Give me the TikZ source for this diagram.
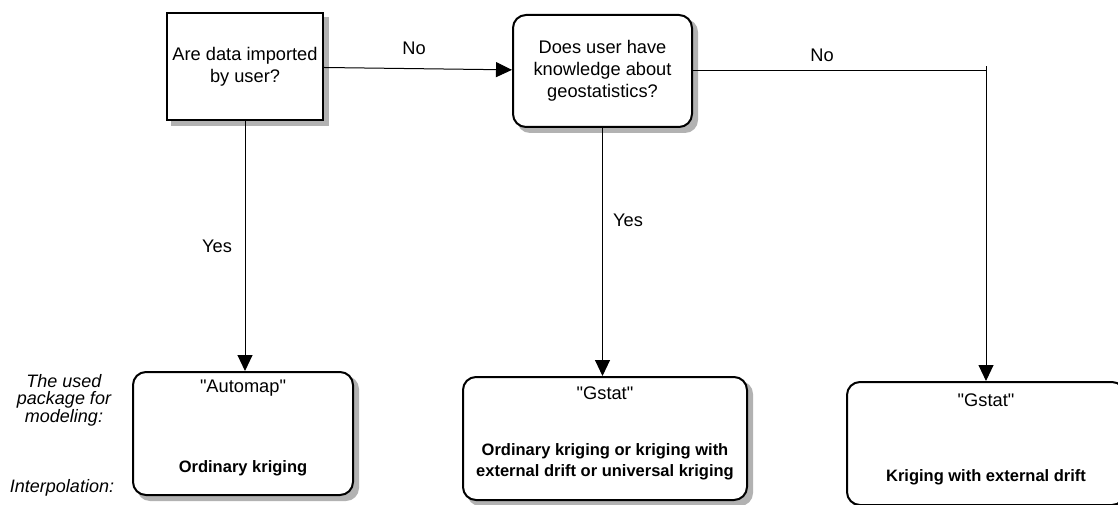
\documentclass[tikz,border=0pt]{standalone}
\usepackage{fontspec}
\setmainfont{Liberation Sans}
\usetikzlibrary{arrows.meta,backgrounds}

\tikzset{
  question/.style={draw, line width=2pt, fill=white, align=center,
    font=\fontsize{18.25}{22}\selectfont},
  result/.style={draw, line width=2pt, fill=white, rounded corners=13pt},
  shadowbox/.style={fill=black!30},
  pkg/.style={font=\fontsize{18.25}{22}\selectfont},
  method/.style={align=center, font=\bfseries\fontsize{16.5}{21}\selectfont},
  note/.style={align=center, font=\itshape\fontsize{18}{17.5}\selectfont},
  answer/.style={font=\fontsize{18.25}{22}\selectfont},
  flow/.style={line width=1pt, -{Triangle[length=16pt,width=15pt]}}
}

\begin{document}
\begin{tikzpicture}[x=1pt,y=-1pt]
\useasboundingbox (0,0) rectangle (1118,505);

% First question
\node[question,
    minimum width=156pt,
    minimum height=107pt] (q1) at (245,66.5) {Are data imported\\by user?};

% Second question
\node[question,
    rounded corners=13pt,
    minimum width=179pt,
    minimum height=112pt] (q2) at (602.5,71) {Does user have\\knowledge about\\geostatistics?};

% Result boxes
\node[result, minimum width=220pt, minimum height=123pt] (automap) at (243,433.5) {};
\node[result, minimum width=284pt, minimum height=123pt] (gstat1) at (605,438.5) {};
\node[result, minimum width=278pt, minimum height=123pt] (gstat2) at (986,443.5) {};

% Shadows behind the boxes
\begin{scope}[on background layer]
  \fill[shadowbox] ([shift={(5pt,-5pt)}]q1.south west) rectangle ([shift={(5pt,-5pt)}]q1.north east);
  \foreach \b in {q2,automap,gstat1,gstat2}
    \fill[shadowbox, rounded corners=13pt] ([shift={(5pt,-5pt)}]\b.south west) rectangle ([shift={(5pt,-5pt)}]\b.north east);
\end{scope}

% Texts in the result boxes
\node[pkg] (automap-pkg) at (243,388) {\textquotedbl Automap\textquotedbl};
\node[method] (automap-method) at (243,468) {Ordinary kriging};
\node[pkg] (gstat1-pkg) at (605,393) {\textquotedbl Gstat\textquotedbl};
\node[method] (gstat1-method) at (605,462) {Ordinary kriging or kriging with\\external drift or universal kriging};
\node[pkg] (gstat2-pkg) at (986,400) {\textquotedbl Gstat\textquotedbl};
\node[method] (gstat2-method) at (986,477) {Kriging with external drift};

% Row labels on the left
\node[note] (used-pkg) at (64,400) {The used\\package for\\modeling:};
\node[note] (interp) at (62,488) {Interpolation:};

% Connectors
\draw[flow] (q1) -- (q2);
\draw[flow] (q1.south) -- (q1.south |- automap.north);
\draw[flow] (q2.south) -- (q2.south |- gstat1.north);
\draw[flow] (q2.east) -| (gstat2.north);
\coordinate (turn) at (q2.east -| gstat2.north);
\draw[line width=1pt] (turn) -- ++(0,-5);

% Answers on the connectors
\node[answer] (no1) at (414,48) {No};
\node[answer] (no2) at (822,55) {No};
\node[answer] (yes1) at (217,246) {Yes};
\node[answer] (yes2) at (628,220) {Yes};

\end{tikzpicture}
\end{document}
